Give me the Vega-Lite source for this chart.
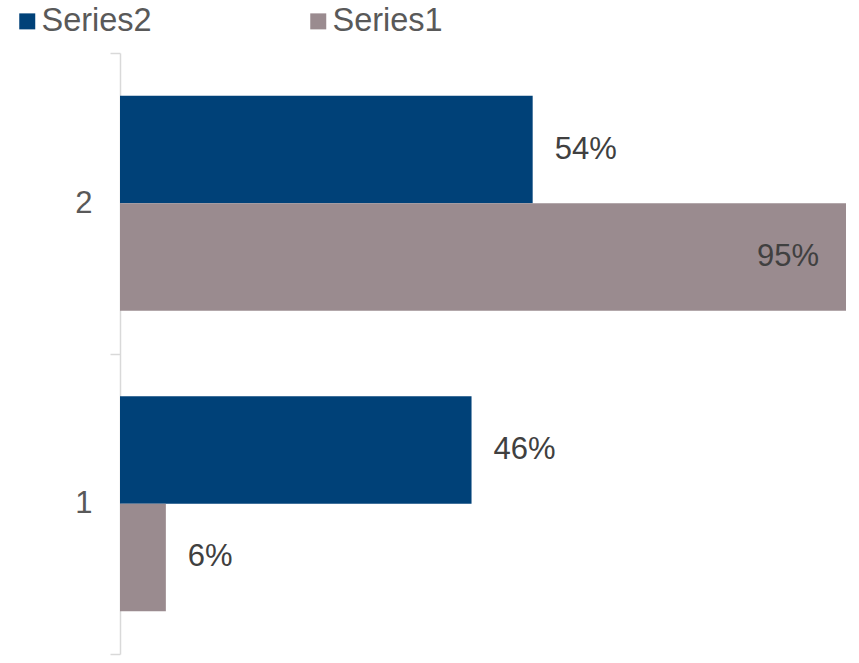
{
  "$schema": "https://vega.github.io/schema/vega-lite/v6.json",
  "autosize": "none",
  "width": 726,
  "height": 601,
  "padding": {"left": 120, "top": 53, "right": 13, "bottom": 9},
  "background": "white",
  "config": {
    "view": {"stroke": null},
    "font": "Liberation Sans"
  },
  "data": {
    "values": [
      {"cat": "2", "series": "Series2", "value": 0.54},
      {"cat": "2", "series": "Series1", "value": 0.95},
      {"cat": "1", "series": "Series2", "value": 0.46},
      {"cat": "1", "series": "Series1", "value": 0.06}
    ]
  },
  "encoding": {
    "y": {
      "field": "cat",
      "type": "nominal",
      "sort": ["2", "1"],
      "scale": {"paddingInner": 0, "paddingOuter": 0},
      "axis": {
        "title": null,
        "domainColor": "#d9d9d9",
        "domainWidth": 1.5,
        "tickColor": "#d9d9d9",
        "tickWidth": 1.5,
        "tickSize": 10,
        "tickBand": "extent",
        "labelFontSize": 31,
        "labelColor": "#595959",
        "labelPadding": 18,
        "labelFont": "Liberation Sans"
      }
    },
    "yOffset": {
      "field": "series",
      "type": "nominal",
      "sort": ["Series2", "Series1"],
      "scale": {"paddingInner": 0, "paddingOuter": 0.398}
    },
    "x": {
      "field": "value",
      "type": "quantitative",
      "scale": {"domain": [0, 0.95], "nice": false},
      "axis": null
    }
  },
  "layer": [
    {
      "mark": {"type": "bar"},
      "encoding": {
        "color": {
          "field": "series",
          "type": "nominal",
          "sort": ["Series2", "Series1"],
          "scale": {"domain": ["Series2", "Series1"], "range": ["#004178", "#9A8B8F"]},
          "legend": {
            "title": null,
            "orient": "none",
            "direction": "horizontal",
            "legendX": -109,
            "legendY": -48,
            "symbolType": "square",
            "symbolSize": 256,
            "symbolStrokeWidth": 0,
            "symbolOpacity": 1,
            "labelFontSize": 32.5,
            "labelColor": "#595959",
            "labelFont": "Liberation Sans",
            "labelOffset": -2,
            "columnPadding": 150
          }
        }
      }
    },
    {
      "mark": {
        "type": "text",
        "fontSize": 31,
        "font": "Liberation Sans",
        "color": "#404040",
        "baseline": "middle",
        "align": {"expr": "datum.value > 0.9 ? 'right' : 'left'"},
        "dx": {"expr": "datum.value > 0.9 ? -27 : 22"}
      },
      "encoding": {
        "text": {"field": "value", "type": "quantitative", "format": ".0%"}
      }
    }
  ]
}
